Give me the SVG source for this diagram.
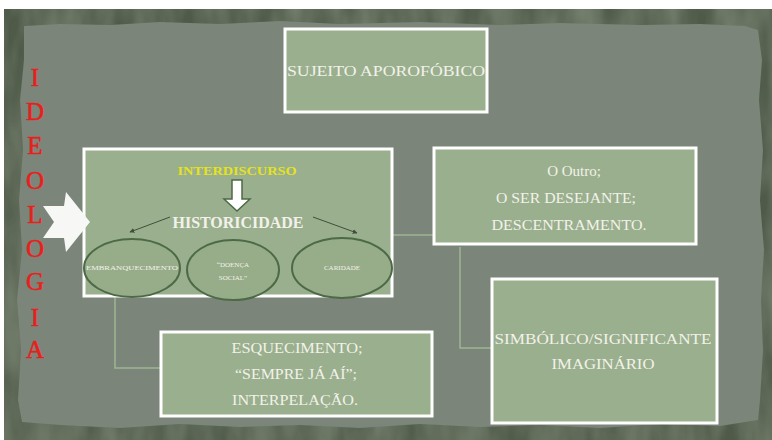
<svg xmlns="http://www.w3.org/2000/svg" width="772" height="440" viewBox="0 0 772 440">
<defs>
<filter id="grain" x="0" y="0" width="100%" height="100%">
<feTurbulence type="fractalNoise" baseFrequency="0.035 0.012" numOctaves="3" seed="4" result="n"/>
<feColorMatrix in="n" type="matrix" values="0 0 0 0 0.25  0 0 0 0 0.3  0 0 0 0 0.22  0 0 0 0.9 -0.2" result="c"/>
<feComposite in="c" in2="SourceGraphic" operator="in" result="t"/>
<feMerge><feMergeNode in="SourceGraphic"/><feMergeNode in="t"/></feMerge>
</filter>
<marker id="ah" viewBox="0 0 8 8" refX="7" refY="4" markerWidth="5" markerHeight="5" orient="auto">
<path d="M0,0 L8,4 L0,8 z" fill="#3f4f3a"/>
</marker>
</defs>
<style>
.box{fill:#9aaf8d;stroke:#ffffff;stroke-width:3}
.t{font-family:"Liberation Serif","DejaVu Serif",serif;fill:#f2f2ea;text-anchor:middle}
.ell{fill:#97ad89;stroke:#4d6a46;stroke-width:2}
.small{font-family:"Liberation Serif","DejaVu Serif",serif;fill:#f2f2ea;text-anchor:middle;font-size:7px}
.red{font-family:"Liberation Serif","DejaVu Serif",serif;fill:#e8201c;stroke:#e8201c;stroke-width:0.5;text-anchor:middle;font-size:25px}
.conn{fill:none;stroke:#9fb693;stroke-width:1.5}
</style>
<rect x="0" y="0" width="772" height="440" fill="#ffffff"/>
<rect x="4" y="9" width="768" height="431" fill="#4f5a4a" filter="url(#grain)"/>
<path d="M24,26 L60,24 L110,25 L160,22 L220,24 L280,21 L340,24 L420,22 L500,25 L560,23 L640,25 L700,24 L745,26 L758,30 L762,60 L759,100 L763,150 L760,200 L764,250 L761,300 L763,350 L760,400 L758,420 L720,426 L660,424 L600,428 L540,425 L480,427 L420,424 L360,428 L300,425 L240,427 L180,424 L120,428 L60,425 L22,422 L18,400 L21,350 L17,300 L22,250 L19,200 L23,150 L20,100 L24,60 z" fill="#7b8579"/>

<g id="connectors">
<path class="conn" d="M115,297 L115,368 L160,368"/>
<path class="conn" d="M393,235 L433,235"/>
<path class="conn" d="M460,247 L460,348 L491,348"/>
</g>

<g id="ideologia">
<text class="red" x="35" y="86">I</text>
<text class="red" x="35" y="120">D</text>
<text class="red" x="35" y="154">E</text>
<text class="red" x="35" y="189">O</text>
<text class="red" x="35" y="223">L</text>
<text class="red" x="35" y="257">O</text>
<text class="red" x="35" y="290">G</text>
<text class="red" x="35" y="326">I</text>
<text class="red" x="35" y="358">A</text>
</g>

<g id="sujeito">
<rect class="box" x="285" y="29" width="202" height="83"/>
<text class="t" x="386" y="76" font-size="15" textLength="198" lengthAdjust="spacingAndGlyphs">SUJEITO APOROFÓBICO</text>
</g>

<g id="main">
<rect class="box" x="84" y="149" width="308" height="147"/>
<text x="237" y="175" font-family="Liberation Serif, DejaVu Serif, serif" font-weight="bold" font-size="13" fill="#e6e21e" text-anchor="middle" textLength="119" lengthAdjust="spacingAndGlyphs">INTERDISCURSO</text>
<path d="M232,180 L242,180 L242,199 L250,199 L237,211 L224,199 L232,199 z" fill="#ffffff" stroke="#4d6a46" stroke-width="1.5"/>
<text class="t" x="238" y="228" font-size="16" font-weight="bold" textLength="131" lengthAdjust="spacingAndGlyphs">HISTORICIDADE</text>
<line x1="170" y1="217" x2="130" y2="232" stroke="#3f4f3a" stroke-width="1" marker-end="url(#ah)"/>
<line x1="313" y1="217" x2="357" y2="233" stroke="#3f4f3a" stroke-width="1" marker-end="url(#ah)"/>
</g>

<g id="embranquecimento">
<ellipse class="ell" cx="132" cy="268" rx="48" ry="29"/>
<text class="small" x="132" y="270" textLength="92" lengthAdjust="spacingAndGlyphs">EMBRANQUECIMENTO</text>
</g>
<g id="doenca">
<ellipse class="ell" cx="233" cy="270" rx="46" ry="30"/>
<text class="small" x="233" y="267">“DOENÇA</text>
<text class="small" x="233" y="280">SOCIAL”</text>
</g>
<g id="caridade">
<ellipse class="ell" cx="342" cy="268" rx="50" ry="30"/>
<text class="small" x="342" y="270">CARIDADE</text>
</g>

<g id="big-arrow">
<path d="M43,206 L64,206 L66,192 L90,222 L66,252 L64,238 L43,238 L54,222 z" fill="#f7f7f5"/>
</g>

<g id="outro">
<rect class="box" x="434" y="148" width="262" height="96"/>
<text class="t" x="574" y="176" font-size="15">O Outro;</text>
<text class="t" x="566" y="203" font-size="15" textLength="140" lengthAdjust="spacingAndGlyphs">O SER DESEJANTE;</text>
<text class="t" x="569" y="230" font-size="15" textLength="155" lengthAdjust="spacingAndGlyphs">DESCENTRAMENTO.</text>
</g>

<g id="esquecimento">
<rect class="box" x="161" y="332" width="271" height="84"/>
<text class="t" x="297" y="353" font-size="15" textLength="131" lengthAdjust="spacingAndGlyphs">ESQUECIMENTO;</text>
<text class="t" x="296" y="379" font-size="15" textLength="122" lengthAdjust="spacingAndGlyphs">“SEMPRE JÁ AÍ”;</text>
<text class="t" x="295" y="405" font-size="15" textLength="126" lengthAdjust="spacingAndGlyphs">INTERPELAÇÃO.</text>
</g>

<g id="simbolico">
<rect class="box" x="492" y="279" width="225" height="144"/>
<text class="t" x="603" y="344" font-size="15" textLength="217" lengthAdjust="spacingAndGlyphs">SIMBÓLICO/SIGNIFICANTE</text>
<text class="t" x="603" y="369" font-size="15" textLength="103" lengthAdjust="spacingAndGlyphs">IMAGINÁRIO</text>
</g>
</svg>
